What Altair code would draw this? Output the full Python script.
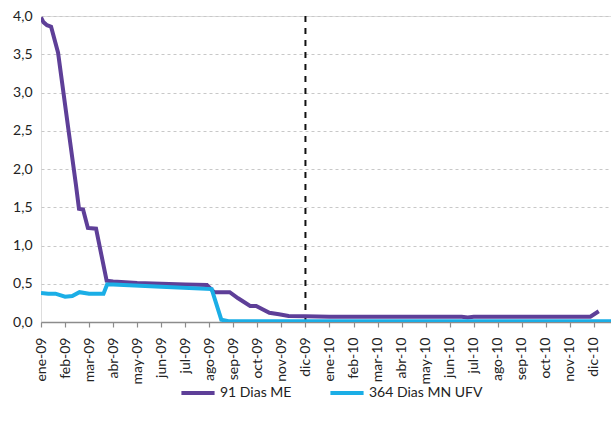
import altair as alt
import pandas as pd

# Month positions: 0 = ene-09 ... 23 = dic-10 (fractional values fall between month starts)
month_labels = ["ene-09", "feb-09", "mar-09", "abr-09", "may-09", "jun-09",
                "jul-09", "ago-09", "sep-09", "oct-09", "nov-09", "dic-09",
                "ene-10", "feb-10", "mar-10", "abr-10", "may-10", "jun-10",
                "jul-10", "ago-10", "sep-10", "oct-10", "nov-10", "dic-10"]

# 91 Dias ME
me91_pos = [0.00, 0.10, 0.25, 0.42, 0.71, 1.16, 1.45, 1.58, 1.75, 1.95, 2.29,
            2.73, 3.0, 4.0, 5.0, 6.0, 6.9, 7.2, 7.85, 8.2, 8.7, 8.95, 9.5,
            9.9, 10.3, 11.0, 12.0, 13.0, 14.0, 15.0, 16.0, 17.0, 17.5,
            17.75, 18.0, 19.0, 20.0, 21.0, 22.0, 22.85, 23.2]
me91_val = [3.98, 3.92, 3.88, 3.86, 3.52, 2.47, 1.80, 1.48, 1.47, 1.23, 1.22,
            0.54, 0.53, 0.51, 0.50, 0.49, 0.485, 0.39, 0.39, 0.31, 0.21, 0.21,
            0.12, 0.10, 0.08, 0.075, 0.07, 0.07, 0.07, 0.07, 0.07, 0.07, 0.07,
            0.06, 0.07, 0.07, 0.07, 0.07, 0.07, 0.07, 0.14]

# 364 Dias MN UFV
mn364_pos = [0.0, 0.3, 0.6, 1.0, 1.3, 1.6, 2.0, 2.6, 2.75, 3.0, 5.0, 7.1,
             7.5, 7.8, 9.0, 12.0, 15.0, 18.0, 21.0, 23.71]
mn364_val = [0.38, 0.37, 0.37, 0.33, 0.34, 0.39, 0.37, 0.37, 0.49, 0.49,
             0.46, 0.43, 0.03, 0.01, 0.01, 0.01, 0.01, 0.01, 0.01, 0.01]

series_names = ["91 Dias ME", "364 Dias MN UFV"]
series_colors = ["#5E3F98", "#1BAEE6"]
marker_month = [11]

df = pd.concat([
    pd.DataFrame({"m": me91_pos, "v": me91_val, "serie": series_names[0]}),
    pd.DataFrame({"m": mn364_pos, "v": mn364_val, "serie": series_names[1]}),
])

label_expr = "[" + ",".join(f"'{s}'" for s in month_labels) + "][round(datum.value)]"

FONT = "Lato"

x_enc = alt.X(
    "m:Q",
    scale=alt.Scale(domain=[0, 23.71], nice=False, zero=False),
    axis=alt.Axis(
        values=list(range(24)), labelExpr=label_expr, labelAngle=270,
        labelAlign="right", labelBaseline="middle", labelPadding=10,
        labelOverlap=False, labelFlush=False, labelBound=False,
        labelFontSize=14, labelColor="#222222", labelFont=FONT,
        domainColor="#8c8c8c", domainWidth=1.5, tickColor="#8c8c8c",
        tickSize=5, tickWidth=1.2, grid=False, title=None,
    ),
)

y_enc = alt.Y(
    "v:Q",
    scale=alt.Scale(domain=[0, 4], nice=False),
    axis=alt.Axis(
        values=[0, 0.5, 1, 1.5, 2, 2.5, 3, 3.5, 4],
        labelExpr="replace(format(datum.value, '.1f'), '.', ',')",
        labelFontSize=14, labelColor="#222222", labelFont=FONT,
        labelPadding=9, labelOverlap=False, labelFlush=False,
        domain=False, ticks=False, grid=True,
        gridColor="#c8c8c8", gridDash=[3, 3], gridWidth=1, title=None,
    ),
)

lines = alt.Chart(df).mark_line(strokeWidth=4, clip=True).encode(
    x=x_enc,
    y=y_enc,
    color=alt.Color(
        "serie:N",
        scale=alt.Scale(domain=series_names, range=series_colors),
        sort=series_names,
        legend=alt.Legend(
            title=None, orient="none", legendX=138, legendY=358,
            direction="horizontal", symbolType="stroke", symbolSize=1100,
            symbolStrokeWidth=4, labelFontSize=14, labelFont=FONT,
            labelColor="#222222", columnPadding=30, labelOffset=3,
        ),
    ),
    order=alt.Order("m:Q"),
)

# Dashed marker at the start of dic-09
rule = alt.Chart(pd.DataFrame({"m": marker_month})).mark_rule(
    color="#111111", strokeWidth=2, strokeDash=[6, 6]
).encode(x=x_enc)

chart = (
    alt.layer(rule, lines)
    .properties(
        width=570, height=306,
        autosize=alt.AutoSizeParams(type="none"),
        padding={"left": 41, "top": 16, "right": 0, "bottom": 107},
    )
    .configure_view(stroke=None)
    .configure_axisX(labelOverlap=False)
    .configure(background="white")
)

chart.save("out.html", embed_options={"renderer": "svg", "actions": False})
